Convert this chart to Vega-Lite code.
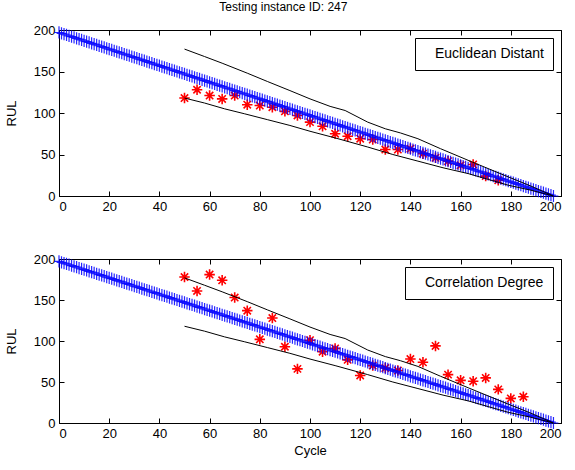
{
  "$schema": "https://vega.github.io/schema/vega-lite/v6.json",
  "padding": {"left": 4, "top": 1, "right": 0, "bottom": 0},
  "title": {"text": "Testing instance ID: 247", "fontSize": 12, "font": "Liberation Sans", "fontWeight": "normal", "anchor": "middle", "offset": 9, "color": "black"},
  "config": {
    "font": "Liberation Sans",
    "view": {"stroke": "black", "strokeWidth": 1},
    "axis": {"domainColor": "black", "tickColor": "black", "tickSize": -5, "labelColor": "black", "labelFontSize": 13, "titleFontSize": 13, "titleFontWeight": "normal", "titleColor": "black", "grid": false, "labelPadding": 9, "titlePadding": 15},
    "legend": {"orient": "top-right", "offset": 8, "strokeColor": "black", "fillColor": "white", "padding": 9, "cornerRadius": 0, "labelFontSize": 14, "labelColor": "black", "symbolSize": 0, "symbolStrokeWidth": 0, "labelOffset": -3, "labelLimit": 300}
  },
  "datasets": {
    "ed": [
      {"c":50,"r":118},{"c":55,"r":128},{"c":60,"r":121},{"c":65,"r":117},{"c":70,"r":121},{"c":75,"r":110},{"c":80,"r":109},{"c":85,"r":107},{"c":90,"r":102},{"c":95,"r":97},{"c":100,"r":89},{"c":105,"r":84},{"c":110,"r":75},{"c":115,"r":72},{"c":120,"r":69},{"c":125,"r":68},{"c":130,"r":56},{"c":135,"r":56},{"c":140,"r":57},{"c":145,"r":51},{"c":150,"r":46},{"c":155,"r":42},{"c":160,"r":37},{"c":165,"r":38},{"c":170,"r":24},{"c":175,"r":19}
    ],
    "cd": [
      {"c":50,"r":178},{"c":55,"r":161},{"c":60,"r":181},{"c":65,"r":174},{"c":70,"r":153},{"c":75,"r":137},{"c":80,"r":102},{"c":85,"r":128},{"c":90,"r":93},{"c":95,"r":66},{"c":100,"r":101},{"c":105,"r":87},{"c":110,"r":91},{"c":115,"r":77},{"c":120,"r":58},{"c":125,"r":70},{"c":130,"r":67},{"c":135,"r":64},{"c":140,"r":78},{"c":145,"r":74},{"c":150,"r":94},{"c":155,"r":59},{"c":160,"r":52},{"c":165,"r":51},{"c":170,"r":55},{"c":175,"r":41},{"c":180,"r":30},{"c":185,"r":32}
    ],
    "bounds": [
      {"k":"u","c":50,"v":177},{"k":"u","c":58,"v":168},{"k":"u","c":65,"v":160},{"k":"u","c":75,"v":148},{"k":"u","c":83,"v":138},{"k":"u","c":92,"v":127},{"k":"u","c":100,"v":117},{"k":"u","c":108,"v":108},{"k":"u","c":114,"v":103},{"k":"u","c":123,"v":89},{"k":"u","c":130,"v":81},{"k":"u","c":136,"v":76},{"k":"u","c":143,"v":69},{"k":"u","c":152,"v":57},{"k":"u","c":163,"v":43},{"k":"u","c":171,"v":33},{"k":"u","c":179,"v":23},{"k":"u","c":188,"v":12},{"k":"u","c":197,"v":0},
      {"k":"l","c":50,"v":118},{"k":"l","c":58,"v":112},{"k":"l","c":66,"v":105},{"k":"l","c":74,"v":99},{"k":"l","c":83,"v":92},{"k":"l","c":92,"v":85},{"k":"l","c":100,"v":78},{"k":"l","c":110,"v":70},{"k":"l","c":123,"v":59},{"k":"l","c":133,"v":50},{"k":"l","c":143,"v":42},{"k":"l","c":153,"v":34},{"k":"l","c":163,"v":27},{"k":"l","c":171,"v":20},{"k":"l","c":179,"v":13},{"k":"l","c":188,"v":7},{"k":"l","c":197,"v":0}
    ],
    "band": [
      {"c":0,"r":197},{"c":1,"r":196},{"c":2,"r":195},{"c":3,"r":194},{"c":4,"r":193},{"c":5,"r":192},{"c":6,"r":191},{"c":7,"r":190},{"c":8,"r":189},{"c":9,"r":188},
      {"c":10,"r":187},{"c":11,"r":186},{"c":12,"r":185},{"c":13,"r":184},{"c":14,"r":183},{"c":15,"r":182},{"c":16,"r":181},{"c":17,"r":180},{"c":18,"r":179},{"c":19,"r":178},
      {"c":20,"r":177},{"c":21,"r":176},{"c":22,"r":175},{"c":23,"r":174},{"c":24,"r":173},{"c":25,"r":172},{"c":26,"r":171},{"c":27,"r":170},{"c":28,"r":169},{"c":29,"r":168},
      {"c":30,"r":167},{"c":31,"r":166},{"c":32,"r":165},{"c":33,"r":164},{"c":34,"r":163},{"c":35,"r":162},{"c":36,"r":161},{"c":37,"r":160},{"c":38,"r":159},{"c":39,"r":158},
      {"c":40,"r":157},{"c":41,"r":156},{"c":42,"r":155},{"c":43,"r":154},{"c":44,"r":153},{"c":45,"r":152},{"c":46,"r":151},{"c":47,"r":150},{"c":48,"r":149},{"c":49,"r":148},
      {"c":50,"r":147},{"c":51,"r":146},{"c":52,"r":145},{"c":53,"r":144},{"c":54,"r":143},{"c":55,"r":142},{"c":56,"r":141},{"c":57,"r":140},{"c":58,"r":139},{"c":59,"r":138},
      {"c":60,"r":137},{"c":61,"r":136},{"c":62,"r":135},{"c":63,"r":134},{"c":64,"r":133},{"c":65,"r":132},{"c":66,"r":131},{"c":67,"r":130},{"c":68,"r":129},{"c":69,"r":128},
      {"c":70,"r":127},{"c":71,"r":126},{"c":72,"r":125},{"c":73,"r":124},{"c":74,"r":123},{"c":75,"r":122},{"c":76,"r":121},{"c":77,"r":120},{"c":78,"r":119},{"c":79,"r":118},
      {"c":80,"r":117},{"c":81,"r":116},{"c":82,"r":115},{"c":83,"r":114},{"c":84,"r":113},{"c":85,"r":112},{"c":86,"r":111},{"c":87,"r":110},{"c":88,"r":109},{"c":89,"r":108},
      {"c":90,"r":107},{"c":91,"r":106},{"c":92,"r":105},{"c":93,"r":104},{"c":94,"r":103},{"c":95,"r":102},{"c":96,"r":101},{"c":97,"r":100},{"c":98,"r":99},{"c":99,"r":98},
      {"c":100,"r":97},{"c":101,"r":96},{"c":102,"r":95},{"c":103,"r":94},{"c":104,"r":93},{"c":105,"r":92},{"c":106,"r":91},{"c":107,"r":90},{"c":108,"r":89},{"c":109,"r":88},
      {"c":110,"r":87},{"c":111,"r":86},{"c":112,"r":85},{"c":113,"r":84},{"c":114,"r":83},{"c":115,"r":82},{"c":116,"r":81},{"c":117,"r":80},{"c":118,"r":79},{"c":119,"r":78},
      {"c":120,"r":77},{"c":121,"r":76},{"c":122,"r":75},{"c":123,"r":74},{"c":124,"r":73},{"c":125,"r":72},{"c":126,"r":71},{"c":127,"r":70},{"c":128,"r":69},{"c":129,"r":68},
      {"c":130,"r":67},{"c":131,"r":66},{"c":132,"r":65},{"c":133,"r":64},{"c":134,"r":63},{"c":135,"r":62},{"c":136,"r":61},{"c":137,"r":60},{"c":138,"r":59},{"c":139,"r":58},
      {"c":140,"r":57},{"c":141,"r":56},{"c":142,"r":55},{"c":143,"r":54},{"c":144,"r":53},{"c":145,"r":52},{"c":146,"r":51},{"c":147,"r":50},{"c":148,"r":49},{"c":149,"r":48},
      {"c":150,"r":47},{"c":151,"r":46},{"c":152,"r":45},{"c":153,"r":44},{"c":154,"r":43},{"c":155,"r":42},{"c":156,"r":41},{"c":157,"r":40},{"c":158,"r":39},{"c":159,"r":38},
      {"c":160,"r":37},{"c":161,"r":36},{"c":162,"r":35},{"c":163,"r":34},{"c":164,"r":33},{"c":165,"r":32},{"c":166,"r":31},{"c":167,"r":30},{"c":168,"r":29},{"c":169,"r":28},
      {"c":170,"r":27},{"c":171,"r":26},{"c":172,"r":25},{"c":173,"r":24},{"c":174,"r":23},{"c":175,"r":22},{"c":176,"r":21},{"c":177,"r":20},{"c":178,"r":19},{"c":179,"r":18},
      {"c":180,"r":17},{"c":181,"r":16},{"c":182,"r":15},{"c":183,"r":14},{"c":184,"r":13},{"c":185,"r":12},{"c":186,"r":11},{"c":187,"r":10},{"c":188,"r":9},{"c":189,"r":8},
      {"c":190,"r":7},{"c":191,"r":6},{"c":192,"r":5},{"c":193,"r":4},{"c":194,"r":3},{"c":195,"r":2},{"c":196,"r":1},{"c":197,"r":0}
    ]
  },
  "spacing": 38,
  "resolve": {"scale": {"color": "independent"}, "legend": {"color": "independent"}},
  "vconcat": [
    {
      "width": 502, "height": 166,
      "resolve": {"axis": {"x": "independent", "y": "independent"}},
      "layer": [
        {
          "data": {"name": "ed"},
          "mark": {"type": "point", "shape": "M-1,0L1,0M0,-1L0,1M-0.7,-0.7L0.7,0.7M-0.7,0.7L0.7,-0.7", "filled": false, "size": 110, "strokeWidth": 1.6, "opacity": 1},
          "encoding": {
            "x": {"field": "c", "type": "quantitative", "scale": {"domain": [0, 200], "nice": false}, "axis": {"values": [0,20,40,60,80,100,120,140,160,180,200], "title": null}},
            "y": {"field": "r", "type": "quantitative", "scale": {"domain": [0, 200], "nice": false}, "axis": {"values": [0,50,100,150,200], "title": "RUL"}},
            "color": {"datum": "Euclidean Distant", "scale": {"range": ["#ff0000"]}, "legend": {"title": null}}
          }
        },
        {
          "data": {"name": "band"},
          "mark": {"type": "point", "shape": "M-0.8,0L0.8,0M0,-1L0,1", "filled": false, "size": 150, "strokeWidth": 1.2, "color": "#0000ff", "opacity": 0.85},
          "encoding": {
            "x": {"field": "c", "type": "quantitative", "axis": {"orient": "top", "labels": false, "title": null, "domain": false, "minExtent": 0, "maxExtent": 0, "labelPadding": 0, "values": [0,20,40,60,80,100,120,140,160,180,200]}},
            "y": {"field": "r", "type": "quantitative", "axis": {"orient": "right", "labels": false, "title": null, "domain": false, "minExtent": 0, "maxExtent": 0, "labelPadding": 0, "values": [0,50,100,150,200]}}
          }
        },
        {
          "data": {"name": "bounds"},
          "mark": {"type": "line", "color": "black", "strokeWidth": 1},
          "encoding": {
            "x": {"field": "c", "type": "quantitative", "axis": null},
            "y": {"field": "v", "type": "quantitative", "axis": null},
            "detail": {"field": "k"}
          }
        }
      ]
    },
    {
      "width": 502, "height": 164,
      "resolve": {"axis": {"x": "independent", "y": "independent"}},
      "layer": [
        {
          "data": {"name": "cd"},
          "mark": {"type": "point", "shape": "M-1,0L1,0M0,-1L0,1M-0.7,-0.7L0.7,0.7M-0.7,0.7L0.7,-0.7", "filled": false, "size": 110, "strokeWidth": 1.6, "opacity": 1},
          "encoding": {
            "x": {"field": "c", "type": "quantitative", "scale": {"domain": [0, 200], "nice": false}, "axis": {"values": [0,20,40,60,80,100,120,140,160,180,200], "title": "Cycle", "titlePadding": 4}},
            "y": {"field": "r", "type": "quantitative", "scale": {"domain": [0, 200], "nice": false}, "axis": {"values": [0,50,100,150,200], "title": "RUL"}},
            "color": {"datum": "Correlation Degree", "scale": {"range": ["#ff0000"]}, "legend": {"title": null}}
          }
        },
        {
          "data": {"name": "band"},
          "mark": {"type": "point", "shape": "M-0.8,0L0.8,0M0,-1L0,1", "filled": false, "size": 150, "strokeWidth": 1.2, "color": "#0000ff", "opacity": 0.85},
          "encoding": {
            "x": {"field": "c", "type": "quantitative", "axis": {"orient": "top", "labels": false, "title": null, "domain": false, "minExtent": 0, "maxExtent": 0, "labelPadding": 0, "values": [0,20,40,60,80,100,120,140,160,180,200]}},
            "y": {"field": "r", "type": "quantitative", "axis": {"orient": "right", "labels": false, "title": null, "domain": false, "minExtent": 0, "maxExtent": 0, "labelPadding": 0, "values": [0,50,100,150,200]}}
          }
        },
        {
          "data": {"name": "bounds"},
          "mark": {"type": "line", "color": "black", "strokeWidth": 1},
          "encoding": {
            "x": {"field": "c", "type": "quantitative", "axis": null},
            "y": {"field": "v", "type": "quantitative", "axis": null},
            "detail": {"field": "k"}
          }
        }
      ]
    }
  ]
}
